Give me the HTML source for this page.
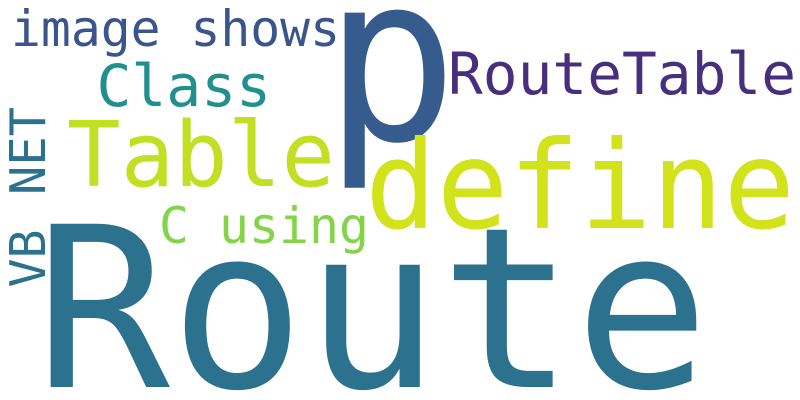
<!DOCTYPE html>
<html>
<head>
<meta charset="utf-8">
<style>
html,body{margin:0;padding:0;background:#fff;width:800px;height:400px;overflow:hidden}
svg{display:block}
text{font-family:"DejaVu Sans Mono","Liberation Mono",monospace;white-space:pre}
</style>
</head>
<body>
<svg width="800" height="400" viewBox="0 0 800 400">
<rect width="800" height="400" fill="#fff"/>
<text x="35" y="387" font-size="224" fill="#2c718e" textLength="674.5" lengthAdjust="spacingAndGlyphs">Route</text>
<text x="324" y="139.5" font-size="232" fill="#365c8d" textLength="134" lengthAdjust="spacingAndGlyphs">p</text>
<text x="365" y="228" font-size="122" fill="#d2e21b" textLength="430" lengthAdjust="spacingAndGlyphs">define</text>
<text x="67" y="186" font-size="90" fill="#c2df23" textLength="268" lengthAdjust="spacingAndGlyphs">Table</text>
<text x="448" y="94" font-size="58" fill="#472f7d" textLength="348" lengthAdjust="spacingAndGlyphs">RouteTable</text>
<text x="96.5" y="106" font-size="58" fill="#218f8d" textLength="174.5" lengthAdjust="spacingAndGlyphs">Class</text>
<text x="11" y="46" font-size="50" fill="#3a548c" textLength="329" lengthAdjust="spacingAndGlyphs">image shows</text>
<text x="159" y="243" font-size="50" fill="#84d44b" textLength="210" lengthAdjust="spacingAndGlyphs">C using</text>
<text transform="translate(45,195) rotate(-90)" font-size="49" fill="#2c728e" textLength="88" lengthAdjust="spacingAndGlyphs">NET</text>
<text transform="translate(45,287.5) rotate(-90)" font-size="49" fill="#2c728e" textLength="58" lengthAdjust="spacingAndGlyphs">VB</text>
</svg>
</body>
</html>
